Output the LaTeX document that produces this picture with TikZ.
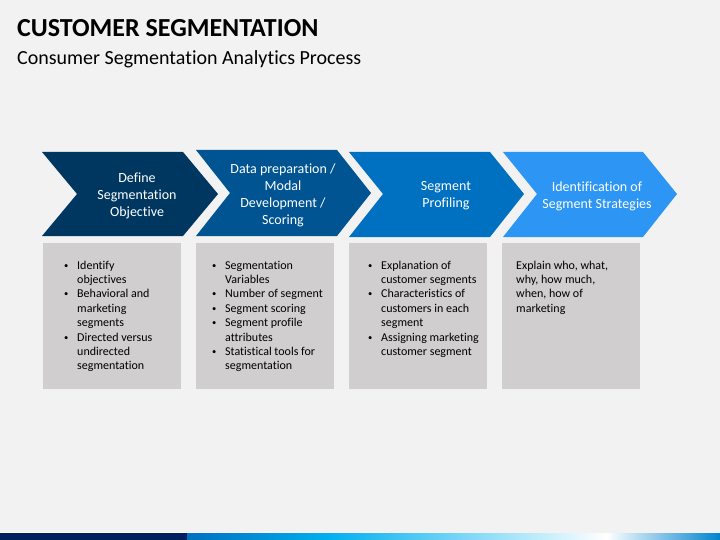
\documentclass[tikz,border=0pt]{standalone}
\usepackage{fontspec}
\setmainfont[Ligatures=NoCommon]{Carlito}
\usetikzlibrary{positioning}
\definecolor{bg}{RGB}{242,242,242}
\definecolor{chA}{RGB}{0,55,96}
\definecolor{chB}{RGB}{0,84,145}
\definecolor{chC}{RGB}{0,112,192}
\definecolor{chD}{RGB}{45,150,245}
\definecolor{boxg}{RGB}{208,206,206}
\definecolor{navy}{RGB}{0,32,96}
\definecolor{cyanb}{RGB}{0,176,240}
\newcommand{\bul}{\makebox[14pt][l]{\hspace*{1pt}\raisebox{1pt}{\fontsize{8.5}{8.5}\selectfont\textbullet}}}
\newcommand{\ind}{\hspace*{14pt}}

\begin{document}
\begin{tikzpicture}[x=1pt,y=-1pt]
\tikzstyle{every node}+=[inner sep=0pt]
\tikzstyle{steptext}=[align=center,text=white,font=\fontsize{14}{17}\selectfont]
\tikzstyle{boxtext}=[anchor=base west,align=left,font=\fontsize{12}{14.4}\selectfont]
\fill [bg] (0,0) rectangle (720,540);
\useasboundingbox (0,0) rectangle (720,540);
% heading
\node [anchor=base west,font=\bfseries\fontsize{26}{31}\selectfont] (title) at (17,36.5) {CUSTOMER SEGMENTATION};
\node [anchor=base west,font=\fontsize{20}{24}\selectfont] (sub) at (17,65) {Consumer Segmentation Analytics Process};
% chevrons
\fill [chA] (42,152) -- (183,152) -- (218,194) -- (183,236) -- (42,236) -- (77,194) -- cycle;
\fill [chB] (196,150) -- (337,150) -- (371,193) -- (337,236) -- (196,236) -- (230,193) -- cycle;
\fill [chC] (349,152) -- (490,152) -- (524,194) -- (490,237) -- (349,237) -- (383,194) -- cycle;
\fill [chD] (503,152) -- (643,152) -- (677,194) -- (643,237) -- (503,237) -- (537,194) -- cycle;
\node [steptext] (c1) at (137,196) {Define\\Segmentation\\Objective};
\node [steptext] (c2) at (283,195) {Data preparation /\\Modal\\Development /\\Scoring};
\node [steptext] (c3) at (446,196) {Segment\\Profiling};
\node [steptext] (c4) at (597,196) {Identification of\\Segment Strategies};
% boxes (base = last line)
\fill [boxg] (43,243) rectangle (181,389);
\fill [boxg] (196,243) rectangle (334,389);
\fill [boxg] (349,243) rectangle (487,389);
\fill [boxg] (502,243) rectangle (640,389);
\node [boxtext] (b1) at (63,369.8) {\bul Identify\\\ind objectives\\\bul Behavioral and\\\ind marketing\\\ind segments\\\bul Directed versus\\\ind undirected\\\ind segmentation};
\node [boxtext] (b2) at (211,369.8) {\bul Segmentation\\\ind Variables\\\bul Number of segment\\\bul Segment scoring\\\bul Segment profile\\\ind attributes\\\bul Statistical tools for\\\ind segmentation};
\node [boxtext] (b3) at (367,355.4) {\bul Explanation of\\\ind customer segments\\\bul Characteristics of\\\ind customers in each\\\ind segment\\\bul Assigning marketing\\\ind customer segment};
\node [boxtext] (b4) at (516,312.2) {Explain who, what,\\why, how much,\\when, how of\\marketing};
% bottom bar
\draw [white, line width=0.8] (0,532.4) -- (390,532.4);
\fill [navy] (0,533) rectangle (187,540);
\shade [left color=chC, right color=cyanb] (187,533) rectangle (330,540);
\shade [left color=cyanb, right color=white] (330,533) rectangle (606,540);
\shade [left color=white, right color=chC!70!cyanb] (606,533) rectangle (720,540);
\end{tikzpicture}
\end{document}
